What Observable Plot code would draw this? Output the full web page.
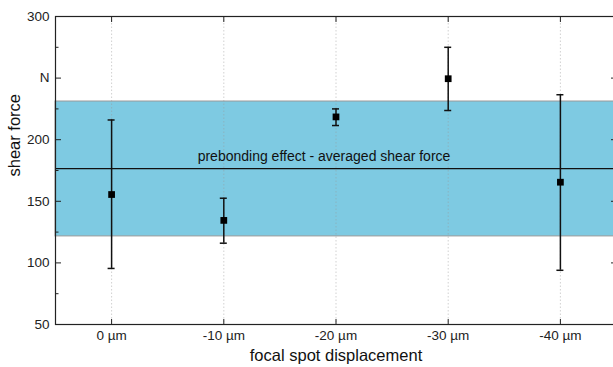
<!DOCTYPE html>
<html><head><meta charset="utf-8">
<script src="https://cdn.jsdelivr.net/npm/d3@7"></script>
<script src="https://cdn.jsdelivr.net/npm/@observablehq/plot@0.6"></script>
<style>
html,body{margin:0;padding:0;background:#fff;overflow:hidden;width:613px;height:367px}
#chart{width:613px;height:367px;overflow:hidden}
#chart svg{display:block;max-width:none !important;width:621px !important;height:367px !important}
</style>
</head><body><div id="chart"></div>
<script>
// ---- data ----
const categories = ["0 µm", "-10 µm", "-20 µm", "-30 µm", "-40 µm"];
const meanForce = [155.5, 134.5, 218.5, 249.5, 165.5];
const errLow = [95.5, 116, 211.5, 223.7, 94];
const errHigh = [216, 152.5, 225, 275, 236.5];
const bandLow = [121.5];
const bandHigh = [231];
const avgForce = [176.5];
const bandLabel = ["prebonding effect - averaged shear force"];
const yTicks = [50, 100, 150, 200, 250, 300];
const yTickLabels = ["50", "100", "150", "200", "N", "300"];
const yMinorTicks = [75, 125, 175, 225, 275];
const xLabel = "focal spot displacement";
const yLabel = "shear force";

const xIdx = categories.map((_, i) => i);
const rows = categories.map((c, i) => ({i, c, m: meanForce[i], lo: errLow[i], hi: errHigh[i]}));
const band = bandLow.map((lo, i) => ({lo, hi: bandHigh[i]}));
const avg = avgForce.map((v, i) => ({v, label: bandLabel[i]}));
const blank = () => "";

const chart = Plot.plot({
  width: 621, height: 367,
  marginLeft: 55, marginRight: 5, marginTop: 16, marginBottom: 43,
  style: {fontFamily: "'Liberation Sans', Arial, sans-serif", background: "#fff", color: "#222"},
  x: {domain: [-0.5, categories.length - 0.5]},
  y: {domain: [50, 300]},
  marks: [
    Plot.rect(band, {y1: "lo", y2: "hi", fill: "#7ecae2", stroke: "#9a9a9a", strokeWidth: 1}),
    Plot.gridX(xIdx, {stroke: "#999", strokeOpacity: 0.45, strokeDasharray: "1.5,2"}),
    Plot.ruleY(avg, {y: "v", stroke: "#111", strokeWidth: 1.3}),
    Plot.text(avg, {y: "v", text: "label", dx: -12, dy: -12, fontSize: 14, fill: "#111"}),
    Plot.ruleX(rows, {x: "i", y1: "lo", y2: "hi", stroke: "#111", strokeWidth: 1.5}),
    Plot.ruleY(rows, {y: "lo", x1: "i", x2: "i", insetLeft: -3.5, insetRight: -3.5, stroke: "#111", strokeWidth: 1.5}),
    Plot.ruleY(rows, {y: "hi", x1: "i", x2: "i", insetLeft: -3.5, insetRight: -3.5, stroke: "#111", strokeWidth: 1.5}),
    Plot.dot(rows, {x: "i", y: "m", symbol: "square", fill: "#000", r: 3.8}),
    // axes
    Plot.axisY(yTicks, {anchor: "left", tickSize: -6, tickPadding: 12, fontSize: 13.5,
      tickFormat: d => yTickLabels[yTicks.indexOf(d)], label: null}),
    Plot.axisY(yMinorTicks, {anchor: "left", tickSize: -3.5, tickFormat: blank, label: null}),
    Plot.axisY(yTicks, {anchor: "right", tickSize: -6, tickFormat: blank, label: null}),
    Plot.axisY(yMinorTicks, {anchor: "right", tickSize: -3.5, tickFormat: blank, label: null}),
    Plot.axisX(xIdx, {anchor: "bottom", tickSize: -5, tickPadding: 11, fontSize: 13.5,
      tickFormat: i => categories[i], label: null}),
    Plot.axisX(xIdx, {anchor: "top", tickSize: -5, tickFormat: blank, label: null}),
    Plot.frame({stroke: "#222", strokeWidth: 1.2}),
    Plot.text([yLabel], {frameAnchor: "left", rotate: -90, dx: -41, dy: 6, fontSize: 16.5, fill: "#111"}),
    Plot.text([xLabel], {frameAnchor: "bottom", dy: 36, fontSize: 16.5, fill: "#111"})
  ]
});
document.getElementById("chart").appendChild(chart);
</script>
</body></html>
